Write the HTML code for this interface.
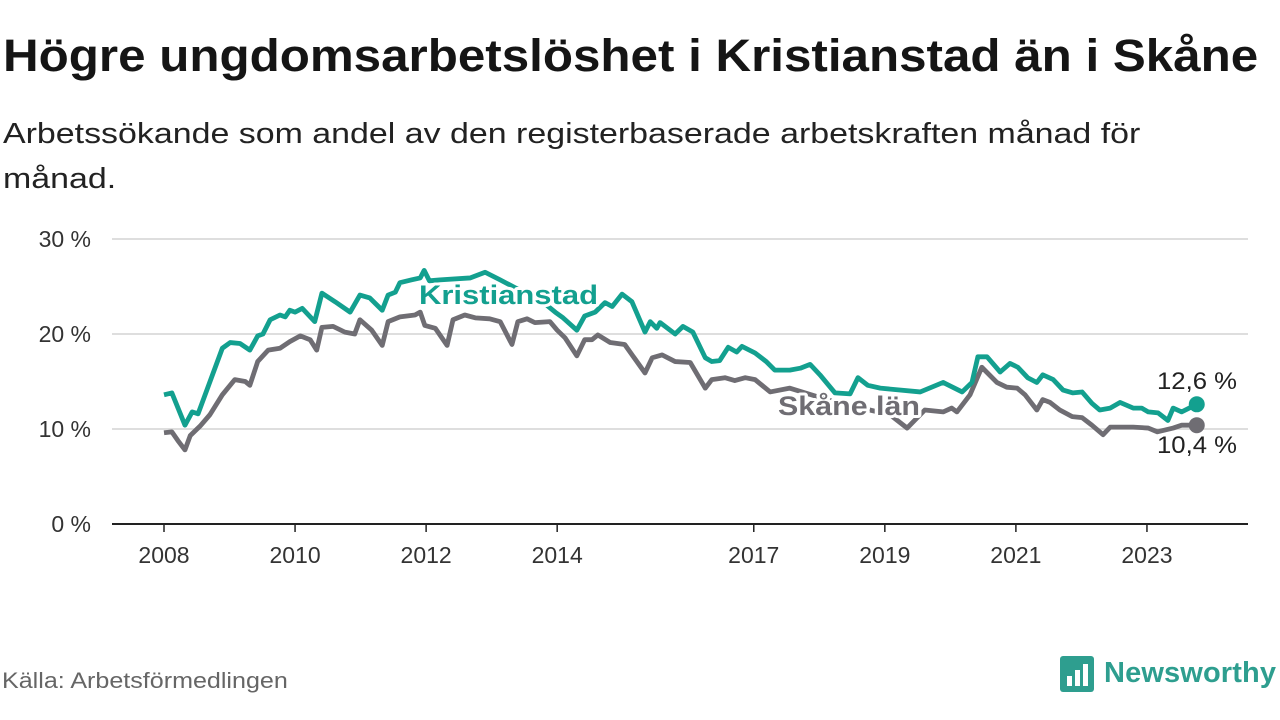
<!DOCTYPE html>
<html><head><meta charset="utf-8"><style>
body{margin:0;width:1280px;height:720px;background:#fff;font-family:"Liberation Sans",sans-serif;overflow:hidden;position:relative}
.t{position:absolute;left:3px;top:30px;font-size:45px;font-weight:bold;color:#151515;margin:0;transform:scaleX(1.096);transform-origin:left top;white-space:nowrap}
.s{position:absolute;left:3px;top:112px;font-size:29px;color:#222;line-height:45px;width:1100px;transform:scaleX(1.17);transform-origin:left top}
.src{position:absolute;left:2px;top:668px;font-size:22px;color:#666;transform:scaleX(1.14);transform-origin:left top}
</style></head><body>
<h1 class="t">Högre ungdomsarbetslöshet i Kristianstad än i Skåne</h1>
<div class="s">Arbetssökande som andel av den registerbaserade arbetskraften månad för<br>månad.</div>
<div class="src">Källa: Arbetsförmedlingen</div>
<svg width="1280" height="720" style="position:absolute;left:0;top:0" id="chart">
<g>
<rect x="1060" y="656" width="34" height="36" rx="3" fill="#2e9e8f"/>
<rect x="1067" y="676" width="5" height="10" fill="#fff"/><rect x="1075" y="670" width="5" height="16" fill="#fff"/><rect x="1083" y="664" width="5" height="22" fill="#fff"/>
<text x="1104" y="682" font-size="29" font-weight="bold" fill="#2e9e8f" textLength="172" font-family="Liberation Sans, sans-serif">Newsworthy</text>
</g>
</svg>
<script>
const yTicks=[0,10,20,30];
const yTickLabels=["0 %","10 %","20 %","30 %"];
const xTicks=[2008,2010,2012,2014,2017,2019,2021,2023];
const kOff=[0,.12,.32,.43,.52,.89,1.01,1.16,1.31,1.43,1.51,1.62,1.77,1.85,1.92,2.0,2.11,2.30,2.41,2.61,2.84,2.99,3.14,3.33,3.42,3.53,3.60,3.78,3.91,3.97,4.05,4.21,4.67,4.90,5.13,5.43,5.74,5.97,6.09,6.30,6.42,6.58,6.73,6.84,6.99,7.14,7.34,7.42,7.52,7.57,7.80,7.92,8.07,8.26,8.36,8.48,8.61,8.74,8.82,9.02,9.19,9.32,9.55,9.71,9.86,10.01,10.24,10.47,10.59,10.74,10.93,11.54,11.89,12.18,12.33,12.42,12.56,12.76,12.91,13.03,13.18,13.32,13.41,13.57,13.72,13.87,14.01,14.16,14.28,14.44,14.59,14.79,14.92,15.02,15.17,15.32,15.40,15.53,15.76];
const kDates=kOff.map(o=>2008+o);
const kVals=[13.6,13.8,10.4,11.8,11.6,18.5,19.1,19.0,18.3,19.8,20.0,21.5,22.0,21.8,22.5,22.3,22.7,21.3,24.3,23.4,22.3,24.1,23.8,22.5,24.1,24.4,25.4,25.7,25.9,26.7,25.6,25.7,25.9,26.5,25.7,24.6,23.6,22.3,21.7,20.4,21.9,22.3,23.3,22.9,24.2,23.4,20.2,21.3,20.6,21.2,20.0,20.8,20.2,17.5,17.1,17.2,18.6,18.1,18.7,18.0,17.1,16.2,16.2,16.4,16.8,15.7,13.8,13.7,15.4,14.6,14.3,13.9,14.9,13.9,14.9,17.6,17.6,16.0,16.9,16.5,15.4,14.9,15.7,15.2,14.1,13.8,13.9,12.7,12.0,12.2,12.8,12.2,12.2,11.8,11.7,10.9,12.2,11.8,12.6];
const sOff=[0,.12,.21,.32,.40,.55,.70,.89,1.08,1.24,1.31,1.43,1.59,1.77,1.92,2.08,2.23,2.33,2.41,2.58,2.76,2.91,2.99,3.17,3.33,3.42,3.60,3.83,3.91,3.98,4.14,4.32,4.41,4.59,4.75,4.97,5.13,5.31,5.40,5.54,5.66,5.89,6.00,6.12,6.30,6.42,6.53,6.62,6.81,7.03,7.34,7.45,7.60,7.80,8.03,8.26,8.36,8.56,8.71,8.87,9.02,9.25,9.55,10.16,10.77,11.08,11.34,11.61,11.89,12.02,12.10,12.30,12.48,12.71,12.86,13.02,13.14,13.32,13.41,13.52,13.67,13.86,14.01,14.16,14.33,14.44,14.79,15.02,15.16,15.40,15.53,15.76];
const sDates=sOff.map(o=>2008+o);
const sVals=[9.6,9.7,8.8,7.8,9.3,10.3,11.5,13.6,15.2,15.0,14.6,17.1,18.3,18.5,19.2,19.8,19.4,18.3,20.7,20.8,20.2,20.0,21.5,20.4,18.8,21.3,21.8,22.0,22.3,20.9,20.6,18.8,21.5,22.0,21.7,21.6,21.3,18.9,21.3,21.6,21.2,21.3,20.4,19.6,17.7,19.4,19.4,19.9,19.1,18.9,15.9,17.5,17.8,17.1,17.0,14.3,15.2,15.4,15.1,15.4,15.2,13.9,14.3,13.0,12.0,11.5,10.1,12.0,11.8,12.2,11.8,13.6,16.5,14.9,14.4,14.3,13.6,12.0,13.1,12.8,12.0,11.3,11.2,10.4,9.4,10.2,10.2,10.1,9.7,10.1,10.4,10.4];
const NS="http://www.w3.org/2000/svg";
const svg=document.getElementById('chart');
const X=v=>164+(v-2008)*65.53;
const Y=v=>524-v*9.5;
function el(tag,attrs,parent){const e=document.createElementNS(NS,tag);for(const k in attrs)e.setAttribute(k,attrs[k]);(parent||svg).appendChild(e);return e;}
yTicks.forEach((t,i)=>{
 if(t>0){const g=el('line',{x1:112,x2:1248,y1:Y(t),y2:Y(t),stroke:'#d4d4d4','stroke-width':1.5});
 
 }
 const tx=el('text',{x:91,y:Y(t)+8,'text-anchor':'end','font-size':23,fill:'#333'});tx.textContent=yTickLabels[i];
 
 
});
const ax=el('line',{x1:112,x2:1248,y1:524,y2:524,stroke:'#222','stroke-width':2});


xTicks.forEach(t=>{
 const l=el('line',{x1:X(t),x2:X(t),y1:524,y2:532,stroke:'#222','stroke-width':1.5});
 
 
 const tx=el('text',{x:X(t),y:563,'text-anchor':'middle','font-size':23,fill:'#333'});tx.textContent=t;
 
 
});
function line(d,v,color,name){
 const p=el('polyline',{points:d.map((x,i)=>X(x)+','+Y(v[i])).join(' '),fill:'none',stroke:color,'stroke-width':4.8,'stroke-linejoin':'round'});
 
 
 const c=el('circle',{cx:X(d[d.length-1]),cy:Y(v[v.length-1]),r:8,fill:color});
 
 
}
line(sDates,sVals,'#6f6d73','skane-lan-line');
line(kDates,kVals,'#13a08f','kristianstad-line');
function lab(x,y,txt,color,name,size,bold,len){
 const t=el('text',{x:x,y:y,'font-size':size,'font-weight':bold?'bold':'normal',fill:color,textLength:len,lengthAdjust:'spacingAndGlyphs',stroke:'#fff','stroke-width':6,'paint-order':'stroke','stroke-linejoin':'round'});
 t.textContent=txt;
 
 
}
lab(419,304,'Kristianstad','#13a08f','kristianstad-label',27,true,179);
lab(778,415,'Skåne län','#6f6d73','skane-lan-label',27,true,142);
lab(1157,389,'12,6 %','#222','kristianstad-value-label',24,false,80);
lab(1157,453,'10,4 %','#222','skane-value-label',24,false,80);
</script>
</body></html>
